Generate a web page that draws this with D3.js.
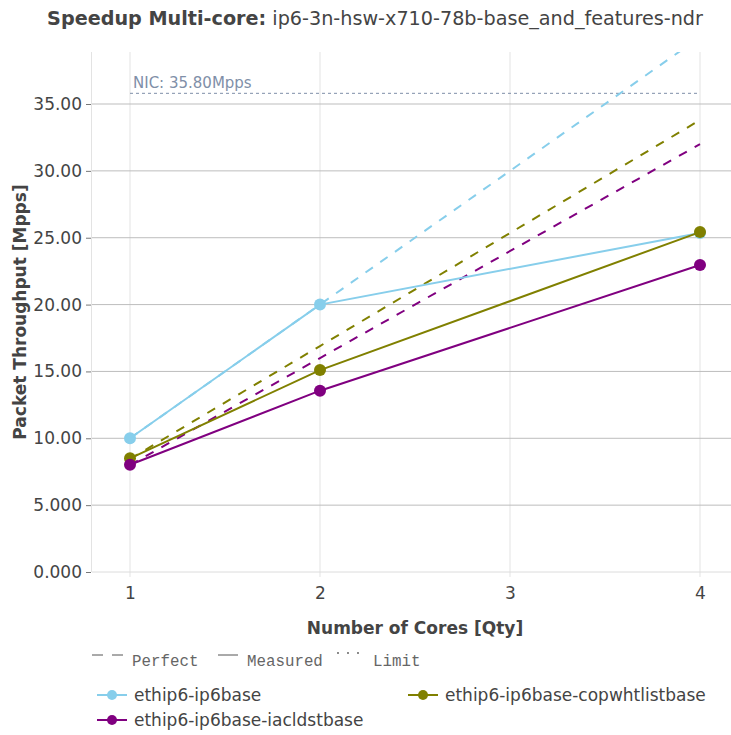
<!DOCTYPE html>
<html>
<head>
<meta charset="utf-8">
<script src="https://cdn.jsdelivr.net/npm/d3@7"></script>
<style>
  html, body { margin: 0; padding: 0; background: #fff; }
  svg { display: block; }
</style>
</head>
<body>
<div id="chart"></div>
<script>
// ---- data ----
const cores = [1, 2, 4];
const seriesNames = ["ethip6-ip6base", "ethip6-ip6base-copwhtlistbase", "ethip6-ip6base-iacldstbase"];
const seriesColors = ["#87ceeb", "#808000", "#800080"];
const measuredIp6base = [10.0, 20.0, 25.35];
const measuredCopwhtlist = [8.5, 15.1, 25.42];
const measuredIacldst = [8.02, 13.56, 22.96];
const perfectIp6base = [10.0, 20.0, 40.0];
const perfectCopwhtlist = [8.45, 16.9, 33.8];
const perfectIacldst = [8.0, 16.0, 32.0];
const nicLimit = 35.8;
const nicLabel = "NIC: 35.80Mpps";
const xTicks = [1, 2, 3, 4];
const yTicks = [0, 5, 10, 15, 20, 25, 30, 35];
const yTickLabels = ["0.000", "5.000", "10.00", "15.00", "20.00", "25.00", "30.00", "35.00"];
const titleBold = "Speedup Multi-core:";
const titleRest = " ip6-3n-hsw-x710-78b-base_and_features-ndr";
const xTitle = "Number of Cores [Qty]";
const yTitle = "Packet Throughput [Mpps]";

const measured = [measuredIp6base, measuredCopwhtlist, measuredIacldst];
const perfect = [perfectIp6base, perfectCopwhtlist, perfectIacldst];

// ---- layout ----
const W = 731, H = 735;
const plot = { left: 92, right: 738, top: 52, bottom: 572 };
const x = d3.scaleLinear().domain([0.8, 4.2]).range([plot.left, plot.right]);
const y = d3.scaleLinear().domain([0, 38.89]).range([plot.bottom, plot.top]);

const svg = d3.select("#chart").append("svg").attr("width", W).attr("height", H)
  .style("font-family", "'DejaVu Sans', sans-serif");

svg.append("defs").append("clipPath").attr("id", "clip")
  .append("rect").attr("x", plot.left).attr("y", plot.top)
  .attr("width", plot.right - plot.left).attr("height", plot.bottom - plot.top);

// vertical grid
svg.append("g").selectAll("line.v").data(xTicks).join("line")
  .attr("x1", d => x(d)).attr("x2", d => x(d))
  .attr("y1", plot.top).attr("y2", plot.bottom + 5)
  .attr("stroke", "#e3e3e3").attr("stroke-width", 1);
// left axis line
svg.append("line").attr("x1", plot.left - 0.5).attr("x2", plot.left - 0.5)
  .attr("y1", plot.top).attr("y2", plot.bottom)
  .attr("stroke", "#e3e3e3").attr("stroke-width", 1);

// horizontal grid
svg.append("g").selectAll("line").data(yTicks).join("line")
  .attr("x1", plot.left).attr("x2", plot.right)
  .attr("y1", d => y(d)).attr("y2", d => y(d))
  .attr("stroke", d => d === 0 ? "#dcdcdc" : "#bdbdbd").attr("stroke-width", 1);

// y ticks
const yAxis = d3.axisLeft(y).tickValues(yTicks).tickSize(5).tickPadding(4)
  .tickFormat((d, i) => yTickLabels[i]);
const ya = svg.append("g").attr("transform", `translate(${plot.left - 1},0)`).call(yAxis);
ya.select(".domain").remove();
ya.selectAll(".tick line").attr("stroke", "#777");
ya.selectAll(".tick text").attr("fill", "#444").style("font-size", "17px")
  .style("font-family", "'DejaVu Sans', sans-serif");

// x ticks labels
const xAxis = d3.axisBottom(x).tickValues(xTicks).tickSize(0).tickPadding(15).tickFormat(d3.format("d"));
const xa = svg.append("g").attr("transform", `translate(0,${plot.bottom})`).call(xAxis);
xa.select(".domain").remove();
xa.selectAll(".tick text").attr("fill", "#444").style("font-size", "17px")
  .style("font-family", "'DejaVu Sans', sans-serif");

// NIC limit line
svg.append("line")
  .attr("x1", x(1)).attr("x2", x(4)).attr("y1", y(nicLimit)).attr("y2", y(nicLimit))
  .attr("stroke", "#7f8fa8").attr("stroke-width", 1).attr("stroke-dasharray", "3,3");
svg.append("text").attr("x", x(1) + 3).attr("y", y(nicLimit) - 5)
  .attr("fill", "#7f8fa8").style("font-size", "15px").text(nicLabel);

const line = d3.line().x((d, i) => x(cores[i])).y(d => y(d));
const g = svg.append("g").attr("clip-path", "url(#clip)");

// perfect (dashed)
perfect.forEach((vals, k) => {
  g.append("path").datum(vals).attr("d", line)
    .attr("fill", "none").attr("stroke", seriesColors[k]).attr("stroke-width", 2)
    .attr("stroke-dasharray", "9,9");
});
// measured
measured.forEach((vals, k) => {
  const gg = svg.append("g");
  gg.append("path").datum(vals).attr("d", line)
    .attr("fill", "none").attr("stroke", seriesColors[k]).attr("stroke-width", 2);
  gg.selectAll("circle").data(vals).join("circle")
    .attr("cx", (d, i) => x(cores[i])).attr("cy", d => y(d)).attr("r", 6)
    .attr("fill", seriesColors[k]);
});

// title
const t = svg.append("text").attr("x", 375).attr("y", 25).attr("text-anchor", "middle")
  .attr("fill", "#444").style("font-size", "19.2px");
t.append("tspan").style("font-weight", "bold").text(titleBold);
t.append("tspan").text(titleRest);

// axis titles
svg.append("text").attr("x", (plot.left + plot.right) / 2).attr("y", 634)
  .attr("text-anchor", "middle").attr("fill", "#444")
  .style("font-size", "17px").style("font-weight", "bold").text(xTitle);
svg.append("text").attr("transform", `translate(26,${(plot.top + plot.bottom) / 2}) rotate(-90)`)
  .attr("text-anchor", "middle").attr("fill", "#444")
  .style("font-size", "17px").style("font-weight", "bold").text(yTitle);

// line-style legend
const ls = svg.append("g");
const mono = "'Liberation Mono', 'DejaVu Sans Mono', monospace";
ls.append("line").attr("x1", 92).attr("x2", 103).attr("y1", 655).attr("y2", 655).attr("stroke", "#555").attr("stroke-width", 1);
ls.append("line").attr("x1", 112).attr("x2", 123).attr("y1", 655).attr("y2", 655).attr("stroke", "#555").attr("stroke-width", 1);
ls.append("text").attr("x", 132).attr("y", 666).attr("fill", "#666").style("font-family", mono).style("font-size", "15.8px").text("Perfect");
ls.append("line").attr("x1", 218).attr("x2", 238).attr("y1", 655).attr("y2", 655).attr("stroke", "#555").attr("stroke-width", 1);
ls.append("text").attr("x", 247).attr("y", 666).attr("fill", "#666").style("font-family", mono).style("font-size", "15.8px").text("Measured");
[338, 348, 358].forEach(cx => ls.append("circle").attr("cx", cx).attr("cy", 653).attr("r", 0.9).attr("fill", "#555"));
ls.append("text").attr("x", 373).attr("y", 666).attr("fill", "#666").style("font-family", mono).style("font-size", "15.8px").text("Limit");

// series legend
const legendPos = [[92, 695], [403, 695], [92, 720]];
seriesNames.forEach((name, k) => {
  const [lx, ly] = legendPos[k];
  const lg = svg.append("g").attr("transform", `translate(${lx},${ly})`);
  lg.append("line").attr("x1", 5).attr("x2", 35).attr("y1", 0).attr("y2", 0)
    .attr("stroke", seriesColors[k]).attr("stroke-width", 2);
  lg.append("circle").attr("cx", 20).attr("cy", 0).attr("r", 5).attr("fill", seriesColors[k]);
  lg.append("text").attr("x", 42).attr("y", 6).attr("fill", "#444")
    .style("font-size", "17px").text(name);
});
</script>
</body>
</html>
